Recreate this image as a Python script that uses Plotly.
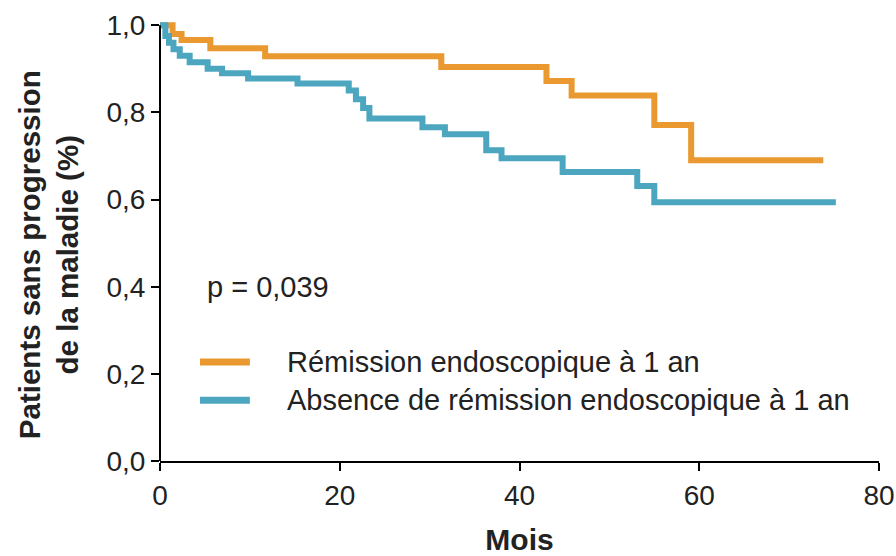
import plotly.graph_objects as go

# Kaplan-Meier step data (months, survival proportion)
remission_months = [0, 1.4, 2.4, 5.6, 11.7, 31.3, 43.0, 45.8, 55.0, 59.1, 73.8]
remission_surv = [1.0, 0.98, 0.966, 0.947, 0.929, 0.904, 0.872, 0.839, 0.771, 0.690, 0.690]

absence_months = [0, 0.6, 1.0, 1.5, 2.2, 3.3, 5.3, 6.9, 9.8, 15.3, 21.0, 21.8, 22.6,
                  23.3, 29.2, 31.7, 36.3, 38.0, 44.8, 53.1, 55.0, 75.2]
absence_surv = [1.0, 0.975, 0.96, 0.945, 0.93, 0.915, 0.90, 0.89, 0.878, 0.866, 0.85,
                0.83, 0.81, 0.786, 0.766, 0.75, 0.713, 0.695, 0.663, 0.631, 0.594, 0.594]

series_names = ["Rémission endoscopique à 1 an",
                "Absence de rémission endoscopique à 1 an"]
x_ticks = [0, 20, 40, 60, 80]
y_ticks = [0.0, 0.2, 0.4, 0.6, 0.8, 1.0]
p_text = "p = 0,039"
y_title = "<b>Patients sans progression<br>de la maladie (%)</b>"

ORANGE = "#E9992F"
BLUE = "#4CA6C0"
TEXT = "#222222"
FONT = "Liberation Sans, Arial, sans-serif"

fig = go.Figure()
fig.add_trace(go.Scatter(x=remission_months, y=remission_surv, mode="lines",
                         line=dict(shape="hv", color=ORANGE, width=6),
                         name=series_names[0], showlegend=False))
fig.add_trace(go.Scatter(x=absence_months, y=absence_surv, mode="lines",
                         line=dict(shape="hv", color=BLUE, width=6),
                         name=series_names[1], showlegend=False))

Y_TOP = 1.012

# hand-drawn legend: line samples plus labels
legend_rows = [(0.2245, ORANGE, series_names[0]), (0.138, BLUE, series_names[1])]
shapes = []
annotations = []
for yy, col, label in legend_rows:
    shapes.append(dict(type="line", xref="paper", yref="paper",
                       x0=0.0556, x1=0.125, y0=yy, y1=yy,
                       line=dict(color=col, width=7)))
    annotations.append(dict(xref="paper", yref="paper", x=0.174, y=yy,
                            xanchor="left", yanchor="middle", showarrow=False,
                            text=label, font=dict(size=29, color=TEXT, family=FONT)))

annotations.append(dict(xref="paper", yref="paper", x=0.0626, y=0.3946,
                        xanchor="left", yanchor="middle", showarrow=False,
                        text=p_text, font=dict(size=29, color=TEXT, family=FONT)))

# vertical axis title, set slightly below the plot centre
annotations.append(dict(xref="paper", yref="paper", x=-0.1558, y=0.469,
                        xanchor="center", yanchor="middle", showarrow=False,
                        textangle=-90, text=y_title,
                        font=dict(size=29.5, color=TEXT, family=FONT)))

# left spine stops at 1.0
shapes.append(dict(type="line", xref="paper", yref="paper", x0=0, x1=0,
                   y0=0, y1=1.0 / Y_TOP, line=dict(color="black", width=2)))

fig.update_layout(
    width=896, height=556,
    margin=dict(l=160, r=17, t=20, b=95),
    paper_bgcolor="white", plot_bgcolor="white",
    separators=", ",
    font=dict(family=FONT, color=TEXT, size=28),
    shapes=shapes, annotations=annotations,
    xaxis=dict(range=[0, 80], tickvals=x_ticks, showgrid=False, zeroline=False,
               automargin=False,
               showline=True, linecolor="black", linewidth=2,
               ticks="outside", ticklen=8, tickwidth=2, tickcolor="black",
               tickfont=dict(size=28, family=FONT, color=TEXT),
               title=dict(text="<b>Mois</b>", standoff=24,
                          font=dict(size=30, family=FONT, color=TEXT))),
    yaxis=dict(range=[0, Y_TOP], tickvals=y_ticks, tickformat=".1f",
               automargin=False,
               showgrid=False, zeroline=False, showline=False,
               ticks="outside", ticklen=8, tickwidth=2, tickcolor="black",
               tickfont=dict(size=28, family=FONT, color=TEXT)),
)

fig.write_html("out.html")
